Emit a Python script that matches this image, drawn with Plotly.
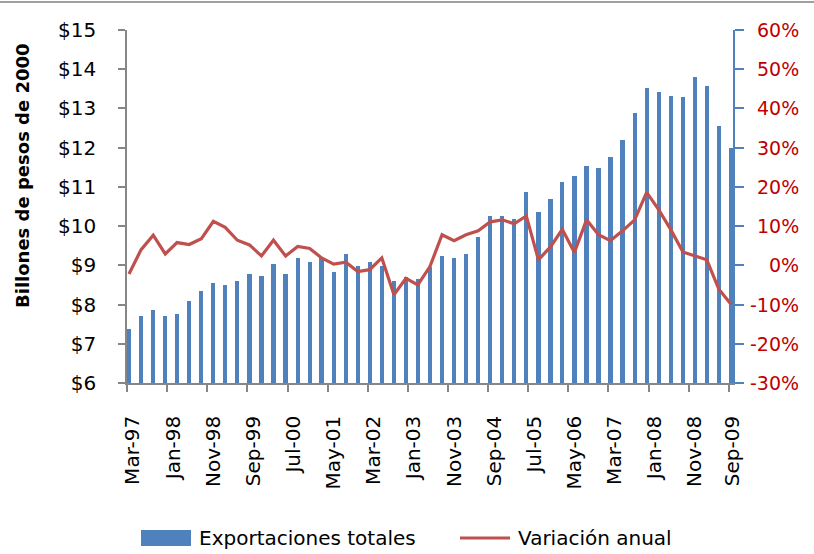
import pandas as pd
import plotly.graph_objects as go

# ---- data (quarterly, Mar-97 .. Sep-09) ----
START_QUARTER = "1997-03-16"
N_QUARTERS = 51
EXPORTS = [7.38, 7.72, 7.86, 7.72, 7.76, 8.10, 8.34, 8.55, 8.50, 8.59,
           8.79, 8.73, 9.03, 8.79, 9.18, 9.08, 9.18, 8.84, 9.28, 8.98,
           9.08, 8.98, 8.59, 8.69, 8.64, 8.95, 9.23, 9.18, 9.28, 9.71,
           10.25, 10.25, 10.19, 10.88, 10.35, 10.69, 11.13, 11.28, 11.52, 11.47,
           11.77, 12.20, 12.88, 13.51, 13.42, 13.32, 13.28, 13.80, 13.57, 12.54,
           12.00]
VARIATION = [-2.2, 4.0, 7.7, 2.9, 5.8, 5.3, 6.8, 11.2, 9.7, 6.4,
             5.2, 2.4, 6.4, 2.4, 4.8, 4.3, 1.9, 0.3, 0.8, -1.6,
             -1.1, 1.9, -7.5, -3.3, -5.0, -0.3, 7.8, 6.3, 7.8, 8.8,
             11.1, 11.6, 10.6, 12.6, 1.4, 4.7, 9.2, 3.3, 11.6, 7.8,
             6.3, 8.8, 11.6, 18.6, 14.2, 9.1, 3.4, 2.4, 1.4, -6.1,
             -9.9]
TICK_LABELS = ["Mar-97", "Jan-98", "Nov-98", "Sep-99", "Jul-00", "May-01",
               "Mar-02", "Jan-03", "Nov-03", "Sep-04", "Jul-05", "May-06",
               "Mar-07", "Jan-08", "Nov-08", "Sep-09"]
LEFT_TICKS = [6, 7, 8, 9, 10, 11, 12, 13, 14, 15]
RIGHT_TICKS = [-30, -20, -10, 0, 10, 20, 30, 40, 50, 60]
SERIES_NAMES = ["Exportaciones totales", "Variación anual"]
Y_TITLE = "Billones de pesos de 2000"

X_START, X_END = "1997-03-01", "2009-10-01"

dates = pd.date_range(START_QUARTER, periods=N_QUARTERS, freq=pd.DateOffset(months=3))
tick_bounds = pd.to_datetime(TICK_LABELS, format="%b-%y")
last_ok = pd.Timestamp(X_END) - pd.Timedelta(days=1)
label_dates = [min(d + pd.Timedelta(days=45), last_ok) for d in tick_bounds]

# ---- layout geometry ----
W, H = 814, 554
L, R, T, B = 127, 733, 30, 383
ML, MR, MT, MB = L, W - R, T, H - B
PW, PH = R - L, B - T


def px_x(x):
    return (x - L) / PW


def px_y(y):
    return (B - y) / PH


FONT = "DejaVu Sans"
BLUE = "#4F81BD"
RED = "#C0504D"
AXIS_GREY = "#868686"

fig = go.Figure()
fig.add_trace(go.Bar(
    x=dates, y=EXPORTS, name=SERIES_NAMES[0],
    marker=dict(color=BLUE, line=dict(width=0)),
    width=32 * 86400000, yaxis="y", showlegend=False,
))
fig.add_trace(go.Scatter(
    x=dates, y=[v / 100 for v in VARIATION], name=SERIES_NAMES[1],
    mode="lines", line=dict(color=RED, width=3.2),
    yaxis="y2", showlegend=False,
))

fig.update_layout(
    width=W, height=H,
    margin=dict(l=ML, r=MR, t=MT, b=MB, pad=0, autoexpand=False),
    paper_bgcolor="white", plot_bgcolor="white",
    font=dict(family=FONT, size=20, color="#000000"),
    xaxis=dict(
        type="date", range=[X_START, X_END],
        tickmode="array", tickvals=label_dates, ticktext=TICK_LABELS,
        tickangle=-90, ticks="",
        minor=dict(tickmode="array", tickvals=tick_bounds, ticks="outside",
                   ticklen=7, tickwidth=1.5, tickcolor=AXIS_GREY, showgrid=False),
        showline=True, linecolor=AXIS_GREY, linewidth=1.5, automargin=False,
        showgrid=False, zeroline=False, ticklabelstandoff=23,
        tickfont=dict(family=FONT, size=20, color="#000000"),
    ),
    yaxis=dict(
        range=[6, 15], tickmode="array", tickvals=LEFT_TICKS,
        ticktext=["$%d" % v for v in LEFT_TICKS],
        ticks="outside", ticklen=7, tickwidth=1.5, tickcolor=AXIS_GREY,
        showline=True, linecolor=AXIS_GREY, linewidth=1.5, automargin=False,
        showgrid=False, zeroline=False, ticklabelstandoff=18,
        tickfont=dict(family=FONT, size=20, color="#000000"),
    ),
    yaxis2=dict(
        range=[-0.3, 0.6], overlaying="y", side="right",
        tickmode="array", tickvals=[v / 100 for v in RIGHT_TICKS],
        showticklabels=False, automargin=False,
        ticks="outside", ticklen=9, tickwidth=1.5, tickcolor=BLUE,
        showline=True, linecolor=BLUE, linewidth=1.5,
        showgrid=False, zeroline=False,
    ),
    bargap=0,
)

# right axis labels (right-aligned as in the reference)
for v in RIGHT_TICKS:
    fig.add_annotation(
        text="%d%%" % v, xref="paper", yref="y2", x=px_x(801), y=v / 100,
        xanchor="right", yanchor="middle", showarrow=False,
        font=dict(family=FONT, size=19, color="#C00000"),
    )

# y-axis title
fig.add_annotation(
    text="<b>" + Y_TITLE + "</b>", xref="paper", yref="paper",
    x=px_x(22), y=px_y(176), xanchor="center", yanchor="middle",
    textangle=-90, showarrow=False, font=dict(family=FONT, size=18, color="#000000"),
)

# top border line
fig.add_shape(type="line", xref="paper", yref="paper",
              x0=px_x(0), x1=px_x(W), y0=px_y(2), y1=px_y(2),
              line=dict(color="#A0A0A0", width=2))

# manual legend
fig.add_shape(type="rect", xref="paper", yref="paper",
              x0=px_x(141), x1=px_x(191), y0=px_y(530), y1=px_y(546),
              fillcolor=BLUE, line=dict(width=0))
fig.add_annotation(text=SERIES_NAMES[0], xref="paper", yref="paper",
                   x=px_x(197), y=px_y(538), xanchor="left", yanchor="middle",
                   showarrow=False, font=dict(family=FONT, size=20, color="#000000"))
fig.add_shape(type="line", xref="paper", yref="paper",
              x0=px_x(460), x1=px_x(510), y0=px_y(538), y1=px_y(538),
              line=dict(color=RED, width=3.2))
fig.add_annotation(text=SERIES_NAMES[1], xref="paper", yref="paper",
                   x=px_x(516), y=px_y(538), xanchor="left", yanchor="middle",
                   showarrow=False, font=dict(family=FONT, size=20, color="#000000"))

fig.write_html(
    "out.html",
    config={"displayModeBar": False},
    post_script="document.body.style.margin='0';document.body.style.overflow='hidden';",
)
